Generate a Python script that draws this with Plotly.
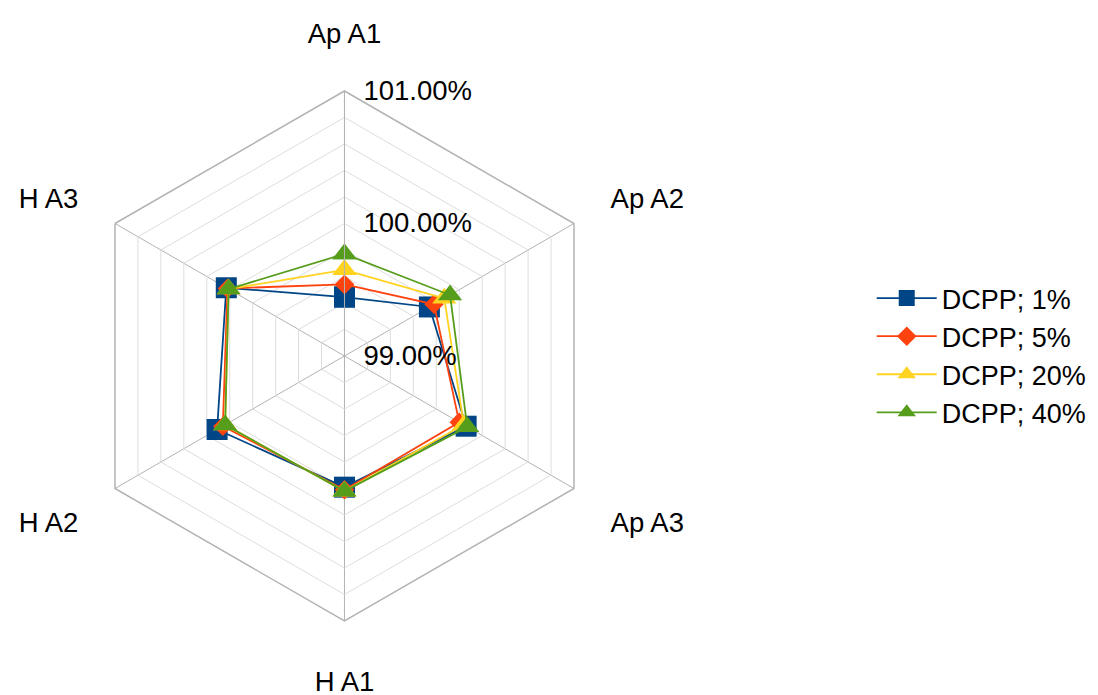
import plotly.graph_objects as go

categories = ["Ap A1", "Ap A2", "Ap A3", "H A1", "H A2", "H A3"]
series_names = ["DCPP; 1%", "DCPP; 5%", "DCPP; 20%", "DCPP; 40%"]
dcpp_1 = [99.445, 99.74, 100.06, 99.99, 100.11, 100.03]
dcpp_5 = [99.54, 99.78, 100.00, 100.01, 100.06, 100.02]
dcpp_20 = [99.65, 99.87, 100.04, 100.02, 100.04, 100.01]
dcpp_40 = [99.77, 99.92, 100.07, 100.02, 100.04, 100.01]
radial_ticks = [99.0, 99.2, 99.4, 99.6, 99.8, 100.0, 100.2, 100.4, 100.6, 100.8, 101.0]
radial_labels = ["99.00%", "", "", "", "", "100.00%", "", "", "", "", "101.00%"]

colors = ["#004586", "#ff420e", "#ffd320", "#579d1c"]
symbols = ["square", "diamond", "triangle-up", "triangle-up"]
sizes = [21, 15, 21, 21]
series = [dcpp_1, dcpp_5, dcpp_20, dcpp_40]

FONT = "Liberation Sans, Arial, sans-serif"
FS = 27.5

fig = go.Figure()
for name, vals, c, s, sz in zip(series_names, series, colors, symbols, sizes):
    fig.add_trace(go.Scatterpolar(
        r=vals + vals[:1],
        theta=categories + categories[:1],
        mode="lines+markers",
        name=name,
        line=dict(color=c, width=1.8),
        marker=dict(color=c, symbol=s, size=sz),
    ))

fig.update_layout(
    width=1098, height=695,
    margin=dict(l=0, r=0, t=0, b=0),
    paper_bgcolor="white",
    font=dict(family=FONT, size=FS, color="black"),
    polar=dict(
        domain=dict(x=[0.0651, 0.5478], y=[0.118, 0.8806]),
        bgcolor="white",
        gridshape="linear",
        angularaxis=dict(
            type="category",
            categoryarray=categories,
            direction="clockwise",
            rotation=90,
            showline=True,
            linecolor="#b3b3b3",
            linewidth=1.5,
            gridcolor="#b3b3b3",
            gridwidth=1.2,
            ticks="outside",
            ticklen=36,
            tickcolor="rgba(0,0,0,0)",
            tickfont=dict(family=FONT, size=FS, color="black"),
        ),
        radialaxis=dict(
            range=[99, 101],
            angle=90,
            tickangle=90,
            side="clockwise",
            tickvals=radial_ticks,
            ticktext=radial_labels,
            showline=True,
            linecolor="#b3b3b3",
            gridcolor="#dddddd",
            gridwidth=1,
            ticks="outside",
            ticklen=13,
            tickcolor="rgba(0,0,0,0)",
            tickfont=dict(family=FONT, size=FS, color="black"),
        ),
    ),
    legend=dict(
        x=0.987, y=0.500, xanchor="right", yanchor="middle",
        font=dict(family=FONT, size=27, color="black"),
        itemwidth=60,
        bgcolor="rgba(0,0,0,0)",
    ),
)

fig.write_html("out.html")
